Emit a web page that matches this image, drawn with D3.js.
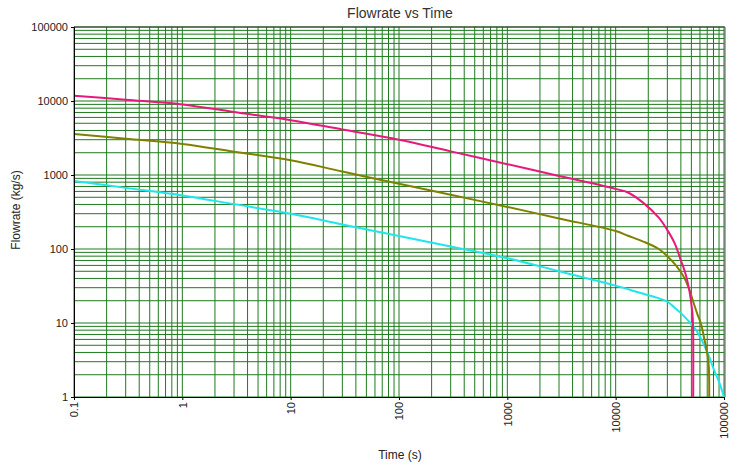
<!DOCTYPE html>
<html>
<head>
<meta charset="utf-8">
<script src="https://cdn.jsdelivr.net/npm/d3@7"></script>
<style>
  html, body { margin: 0; padding: 0; background: #fff; }
  svg { display: block; font-family: "Liberation Sans", Arial, sans-serif; }
</style>
</head>
<body>
<svg id="chart" width="730" height="469"></svg>
<script>
// ---- data ----
const xTickLabels = [0.1, 1, 10, 100, 1000, 10000, 100000];
const yTickLabels = [1, 10, 100, 1000, 10000, 100000];

const magentaTime = [0.1, 0.3, 1, 3, 10, 30, 100, 300, 1000, 3000, 10000, 13000, 18000, 25000, 30000, 35000, 40000, 44000, 48000, 51000, 51800, 51800];
const magentaFlow = [11800, 10400, 9000, 7110, 5500, 4120, 3000, 2085, 1400, 970, 650, 580, 420, 265, 180, 120, 70, 47, 27, 14, 9, 0.5];

const oliveTime = [0.1, 0.3, 1, 3, 10, 30, 100, 300, 1000, 3000, 10000, 13000, 18000, 25000, 30000, 36000, 42500, 48000, 52500, 57000, 61000, 66000, 70800, 72500, 72800];
const oliveFlow = [3580, 3090, 2630, 2065, 1580, 1115, 760, 540, 370, 259, 175, 151, 126, 100, 80, 60, 42, 28, 18.6, 13, 10, 6, 3.5, 2.5, 0.5];

const cyanTime = [0.1, 0.3, 1, 3, 10, 30, 100, 300, 1000, 3000, 10000, 17000, 24000, 30000, 35000, 40000, 46000, 52500, 60000, 70800, 81000, 90000, 100000];
const cyanFlow = [830, 670, 530, 404, 300, 215, 150, 108, 75, 50, 32, 25.4, 22, 19.4, 16.1, 13.6, 11, 8.9, 6.5, 3.9, 2.3, 1.6, 1];

const seriesColors = ["#e8197c", "#808000", "#1ee6ec"];

// ---- layout ----
const svg = d3.select("#chart");
const L = 74, R = 724, T = 27, B = 397;

const x = d3.scaleLog().domain([0.1, 100000]).range([L, R]);
const y = d3.scaleLog().domain([1, 100000]).range([B, T]);

// gridlines
const grid = svg.append("g").attr("stroke", "#1f7a1f").attr("stroke-width", 1);
grid.selectAll("line.v").data(x.ticks()).join("line")
  .attr("class", "v")
  .attr("x1", d => x(d)).attr("x2", d => x(d))
  .attr("y1", T).attr("y2", B);
grid.selectAll("line.h").data(y.ticks()).join("line")
  .attr("class", "h")
  .attr("x1", L).attr("x2", R)
  .attr("y1", d => y(d)).attr("y2", d => y(d));

// border top/right
svg.append("line").attr("x1", L).attr("x2", R + 1).attr("y1", T).attr("y2", T).attr("stroke", "#333");
svg.append("line").attr("x1", R + 1).attr("x2", R + 1).attr("y1", T).attr("y2", B).attr("stroke", "#555");

// clip
svg.append("clipPath").attr("id", "clip").append("rect")
  .attr("x", L).attr("y", T).attr("width", R - L + 1).attr("height", B - T);

const line = d3.line()
  .x(d => x(d[0]))
  .y(d => y(d[1]))
  .curve(d3.curveCatmullRom.alpha(0.5));

const series = [
  d3.zip(cyanTime, cyanFlow),
  d3.zip(oliveTime, oliveFlow),
  d3.zip(magentaTime, magentaFlow)
];
const colorsOrdered = [seriesColors[2], seriesColors[1], seriesColors[0]];

svg.append("g").attr("clip-path", "url(#clip)")
  .selectAll("path").data(series).join("path")
  .attr("d", line)
  .attr("fill", "none")
  .attr("stroke", (d, i) => colorsOrdered[i])
  .attr("stroke-width", 2);

// axes
const fmt = d => String(d);
const xAxis = svg.append("g").attr("transform", `translate(0,${B})`)
  .call(d3.axisBottom(x).tickValues(xTickLabels).tickFormat(fmt).tickSize(3).tickPadding(4));
xAxis.selectAll("text")
  .attr("transform", "rotate(-90)")
  .attr("text-anchor", "end")
  .attr("x", -5)
  .attr("y", 0)
  .attr("dy", "0.35em");

const yAxis = svg.append("g").attr("transform", `translate(${L},0)`)
  .call(d3.axisLeft(y).tickValues(yTickLabels).tickFormat(fmt).tickSize(3).tickPadding(3));

[xAxis, yAxis].forEach(a => {
  a.select(".domain").attr("stroke", "#000");
  a.selectAll(".tick line").attr("stroke", "#000");
  a.selectAll("text").attr("font-size", 11).attr("fill", "#222")
    .attr("font-family", "'Liberation Sans', Arial, sans-serif");
});

// titles
svg.append("text").attr("x", 400).attr("y", 18).attr("text-anchor", "middle")
  .attr("font-size", 14).attr("fill", "#333").text("Flowrate vs Time");
svg.append("text").attr("x", 400).attr("y", 459).attr("text-anchor", "middle")
  .attr("font-size", 12).attr("fill", "#222").text("Time (s)");
svg.append("text").attr("transform", "translate(20,210) rotate(-90)").attr("text-anchor", "middle")
  .attr("font-size", 12).attr("fill", "#222").text("Flowrate (kg/s)");
</script>
</body>
</html>
